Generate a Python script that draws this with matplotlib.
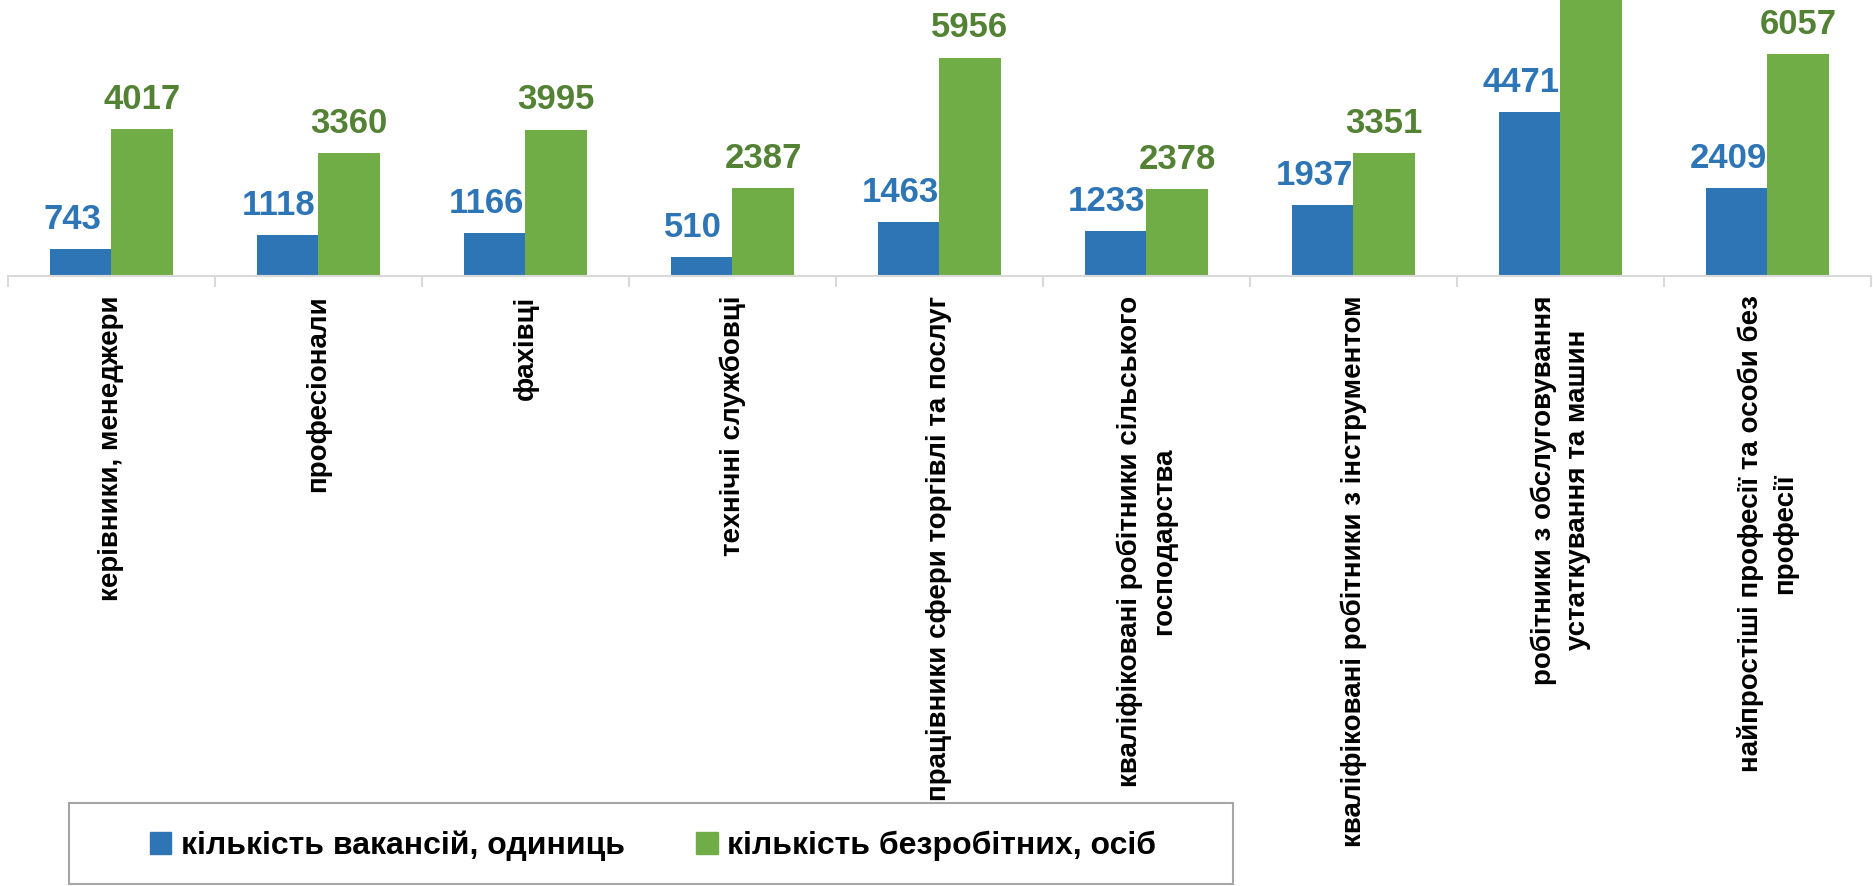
import numpy as np
import matplotlib
matplotlib.use("Agg")
import matplotlib.pyplot as plt
from matplotlib.patches import Rectangle

categories = [
    "керівники, менеджери",
    "професіонали",
    "фахівці",
    "технічні службовці",
    "працівники сфери торгівлі та послуг",
    "кваліфіковані робітники сільського\nгосподарства",
    "кваліфіковані робітники з інструментом",
    "робітники з обслуговування\nустаткування та машин",
    "найпростіші професії та особи без\nпрофесії",
]
vacancies = [743, 1118, 1166, 510, 1463, 1233, 1937, 4471, 2409]
# this green bar runs off the top of the chart, its value is not visible
unemployed = [4017, 3360, 3995, 2387, 5956, 2378, 3351, 8600, 6057]
series_names = ["кількість вакансій, одиниць", "кількість безробітних, осіб"]

blue = "#2E75B6"
green = "#70AD47"
green_text = "#548235"

W, H = 1874, 886
fig = plt.figure(figsize=(W / 100, H / 100), dpi=100)
ax = fig.add_axes([8 / W, 1 - 276 / H, 1863 / W, 276 / H])

x = np.arange(len(categories))
bw = 0.295
ax.bar(x - bw / 2, vacancies, bw, color=blue, zorder=2)
ax.bar(x + bw / 2, unemployed, bw, color=green, zorder=2)

ax.set_xlim(-0.5, len(categories) - 0.5)
ax.set_ylim(0, 7527)

for i in range(len(categories)):
    ax.annotate(str(vacancies[i]), (x[i] - bw / 2, vacancies[i]),
                xytext=(-6.5, 14.5), textcoords="offset points",
                ha="center", va="baseline", color=blue,
                fontsize=25, fontweight="bold", family="Liberation Sans")
    ax.annotate(str(unemployed[i]), (x[i] + bw / 2, unemployed[i]),
                xytext=(0, 14.5), textcoords="offset points",
                ha="center", va="baseline", color=green_text,
                fontsize=25, fontweight="bold", family="Liberation Sans")

for s in ["top", "left", "right"]:
    ax.spines[s].set_visible(False)
ax.spines["bottom"].set_color("#D9D9D9")
ax.spines["bottom"].set_linewidth(1.5)
ax.set_yticks([])

ax.set_xticks(x)
ax.set_xticklabels(categories, rotation=90, fontsize=20, fontweight="bold",
                   family="Liberation Sans", multialignment="center",
                   linespacing=1.42)
ax.tick_params(axis="x", length=0, pad=14)
ax.set_xticks(np.arange(len(categories) + 1) - 0.5, minor=True)
ax.tick_params(axis="x", which="minor", length=8, width=1.5, color="#D9D9D9")

# legend box
fig.patches.append(Rectangle((69 / W, 2 / H), 1164 / W, 81 / H, transform=fig.transFigure,
                             facecolor="white", edgecolor="#A6A6A6", linewidth=1.5))
handles = [Rectangle((0, 0), 1, 1, color=blue), Rectangle((0, 0), 1, 1, color=green)]
fig.legend(handles, series_names, loc="center", bbox_to_anchor=(653 / W, 1 - 846 / H),
           ncol=2, frameon=False, handlelength=0.66, handleheight=0.66,
           handletextpad=0.31, columnspacing=2.25, borderpad=0,
           prop={"family": "Liberation Sans", "weight": "bold", "size": 23})

fig.savefig("out.png", dpi=100)
